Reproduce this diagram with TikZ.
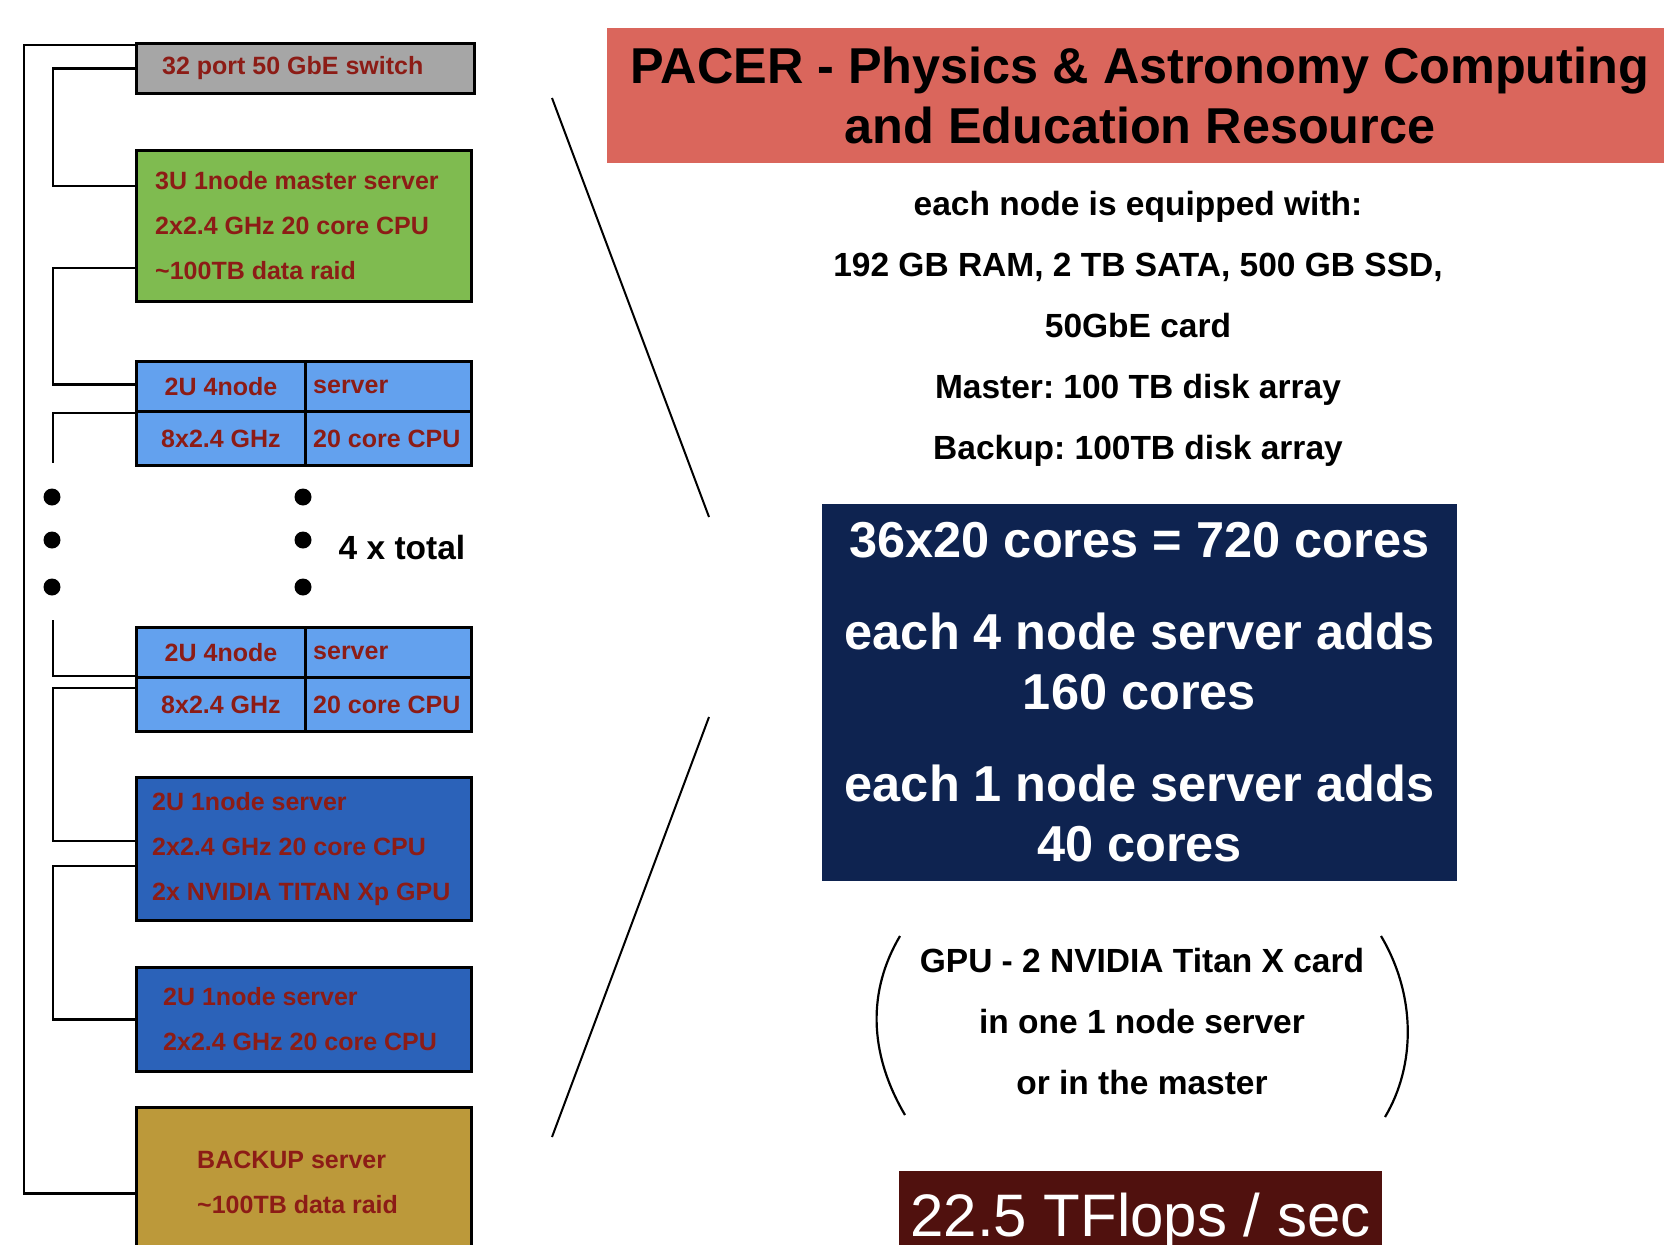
\documentclass[tikz,border=0pt]{standalone}
\usepackage{fontspec}
\setmainfont{Liberation Sans}
\usetikzlibrary{calc}
\frenchspacing

\definecolor{switchgrey}{RGB}{166,166,166}
\definecolor{mastergreen}{RGB}{127,187,80}
\definecolor{quadblue}{RGB}{99,161,238}
\definecolor{singleblue}{RGB}{43,98,185}
\definecolor{backupgold}{RGB}{188,153,58}
\definecolor{labelred}{RGB}{140,28,22}
\definecolor{titlered}{RGB}{218,102,92}
\definecolor{coresnavy}{RGB}{14,35,80}
\definecolor{flopsmaroon}{RGB}{80,17,14}

\begin{document}
\begin{tikzpicture}[x=1pt, y=-1pt,
  rack/.style={draw, line width=3pt, anchor=north west, inner sep=0pt, text=labelred, font=\fontsize{25}{45}\selectfont\bfseries},
  racktext/.style={anchor=west, inner sep=0pt, text=labelred, align=left, font=\fontsize{25}{45}\selectfont\bfseries},
  quadcell/.style={rack, fill=quadblue, minimum height=#1},
  wire/.style={line width=2.5pt},
  fanline/.style={line width=2pt},
  bracket/.style={line width=2.2pt},
  dot/.style={circle, fill=black, inner sep=0pt, minimum size=17pt},
  note/.style={align=center, font=\fontsize{33.5}{61}\selectfont\bfseries}]
  \path[fill=white, use as bounding box] (0,0) rectangle (1664,1244);

  \node[rack, fill=switchgrey, minimum width=338, minimum height=50] (switch) at (135,42) {};
  \node[racktext] (switchText) at ([xshift=27pt]switch.west) {32 port 50 GbE switch};
  \node[rack, fill=mastergreen, minimum width=335, minimum height=151] (master) at (135,149) {};
  \node[racktext] (masterText) at ([xshift=20pt]master.west) {3U 1node master server\\2x2.4 GHz 20 core CPU\\\textasciitilde100TB data raid};
  \foreach \qy/\qn in {360/quadA, 626/quadB} {
    \node[quadcell=50, minimum width=169] (\qn-1) at (135,\qy) {2U 4node};
    \node[quadcell=50, minimum width=166] (\qn-2) at (304,\qy) {};
    \node[racktext] (\qn-2text) at ([xshift=9pt]\qn-2.west) {server};
    \node[quadcell=54, minimum width=169] (\qn-3) at (135,{\qy+50}) {8x2.4 GHz};
    \node[quadcell=54, minimum width=166] (\qn-4) at (304,{\qy+50}) {};
    \node[racktext] (\qn-4text) at ([xshift=9pt]\qn-4.west) {20 core CPU};
  }
  \node[rack, fill=singleblue, minimum width=335, minimum height=143] (gpu) at (135,776) {};
  \node[racktext] (gpuText) at ([xshift=17pt]gpu.west) {2U 1node server\\2x2.4 GHz 20 core CPU\\2x NVIDIA TITAN Xp GPU};
  \node[rack, fill=singleblue, minimum width=335, minimum height=104] (single) at (135,966) {};
  \node[racktext] (singleText) at ([xshift=28pt]single.west) {2U 1node server\\2x2.4 GHz 20 core CPU};
  \node[rack, fill=backupgold, minimum width=335, minimum height=150] (backup) at (135,1106) {};
  \node[racktext] (backupText) at ([xshift=62pt]backup.west) {BACKUP server\\\textasciitilde100TB data raid};

  \coordinate (gapTop) at (53,463);
  \coordinate (gapBottom) at (53,620);
  \draw[wire] ([yshift=-3pt]switch.north west) -- ++(-111,0) |- ([yshift=-11pt]backup.west);
  \draw[wire] (switch.west) -- ++(-82,0) |- ([yshift=40pt]master.west);
  \draw[wire] ([yshift=-42pt]master.west) -- ++(-82,0) |- ([yshift=2pt]quadA-1.west);
  \draw[wire] (quadA-1.south west) -- ++(-82,0) -- (gapTop);
  \draw[wire] (gapBottom) |- ([yshift=3pt]quadB-1.south west);
  \draw[wire] ([yshift=-12pt]quadB-3.north west) -- ++(-82,0) |- ([yshift=8pt]gpu.west);
  \draw[wire] ([yshift=-17pt]gpu.west) -- ++(-82,0) |- (single.west);

  \foreach \dy in {497,540,587} {
    \node[dot] (dotL\dy) at (52,\dy) {};
    \node[dot] (dotR\dy) at (303,\dy) {};
  }
  \node[font=\fontsize{33.5}{40}\selectfont\bfseries] (total) at (402,548) {4 x total};

  \coordinate (fanA) at (552,98);
  \coordinate (fanB) at (709,517);
  \coordinate (fanC) at (709,717);
  \coordinate (fanD) at (552,1137);
  \draw[fanline] (fanA) -- (fanB);
  \draw[fanline] (fanC) -- (fanD);

  \node[fill=titlered, minimum width=1066, minimum height=135, align=center, font=\fontsize{50.4}{60}\selectfont\bfseries] (title) at (1140,95.5) {PACER - Physics \& Astronomy Computing\\and Education Resource};
  \node[note] (specs) at (1138,329) {each node is equipped with:\\192 GB RAM, 2 TB SATA, 500 GB SSD,\\50GbE card\\Master: 100 TB disk array\\Backup: 100TB disk array};
  \node[fill=coresnavy, text=white, minimum width=635, minimum height=377, align=center, font=\fontsize{50.5}{60.5}\selectfont\bfseries] (cores) at (1139.5,692.5) {36x20 cores = 720 cores\\[31pt]each 4 node server adds\\160 cores\\[31pt]each 1 node server adds\\40 cores};
  \node[note] (gpunote) at (1142,1022) {GPU - 2 NVIDIA Titan X card\\in one 1 node server\\or in the master};
  \draw[bracket] (900,936) .. controls (868,990) and (868,1052) .. (905,1115);
  \draw[bracket] (1381,936) .. controls (1416,995) and (1416,1065) .. (1385,1117);
  \node[fill=flopsmaroon, text=white, minimum width=483, minimum height=100, font=\fontsize{60}{70}\selectfont] (flops) at (1140.5,1221) {22.5 TFlops / sec};
\end{tikzpicture}
\end{document}
